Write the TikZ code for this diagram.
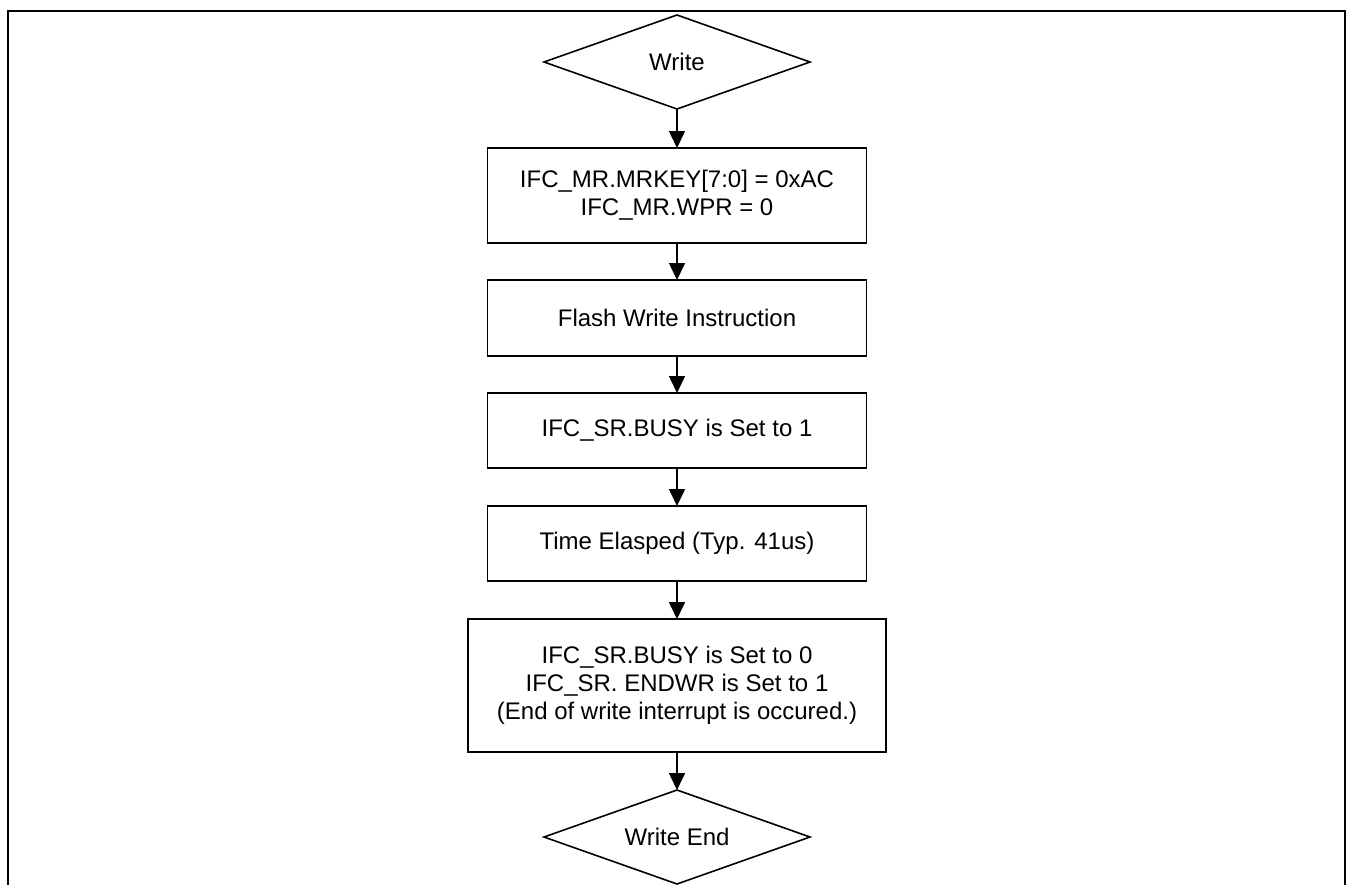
\documentclass[tikz,border=0pt]{standalone}
\usepackage{fontspec}
\setmainfont{Liberation Sans}
\usetikzlibrary{shapes.geometric,arrows.meta}
\begin{document}
\begin{tikzpicture}[x=1pt,y=-1pt,
  every node/.style={font=\fontsize{24pt}{28pt}\selectfont, align=center, inner sep=0pt, outer sep=0pt},
  procbox/.style={draw, line width=1.6pt, minimum width=379pt},
  decision/.style={draw, diamond, line width=1.6pt, minimum width=266pt, minimum height=94pt, aspect=2.83},
  flow/.style={line width=1.6pt, -{Triangle[length=17pt,width=16pt]}},
  frame/.style={line width=2.5pt}]
\useasboundingbox (0,0) rectangle (1346,884);
\clip (0,0) rectangle (1346,884);
\coordinate (fbl) at (8,890);
\coordinate (ftl) at (8,11);
\coordinate (ftr) at (1345,11);
\coordinate (fbr) at (1345,890);
\draw[frame] (fbl) -- (ftl) -- (ftr) -- (fbr);
\node[decision] (start) at (677,62) {Write};
\node[procbox, minimum height=95pt] (b1) at (677,195.5) {IFC\_MR.MRKEY[7:0] = 0xAC\\IFC\_MR.WPR = 0};
\node[procbox, minimum height=76pt] (b2) at (677,318) {Flash Write Instruction};
\node[procbox, minimum height=75pt] (b3) at (677,430.5) {IFC\_SR.BUSY is Set to 1};
\node[procbox, minimum height=75pt] (b4) at (677,543.5) {Time Elasped (Typ. 41us)};
\node[procbox, minimum width=418pt, minimum height=133pt] (b5) at (677,685.5) {IFC\_SR.BUSY is Set to 0\\IFC\_SR. ENDWR is Set to 1\\(End of write interrupt is occured.)};
\node[decision] (stop) at (677,837) {Write End};
\draw[flow] (start.south) -- (b1.north);
\draw[flow] (b1.south) -- (b2.north);
\draw[flow] (b2.south) -- (b3.north);
\draw[flow] (b3.south) -- (b4.north);
\draw[flow] (b4.south) -- (b5.north);
\draw[flow] (b5.south) -- (stop.north);
\end{tikzpicture}
\end{document}
